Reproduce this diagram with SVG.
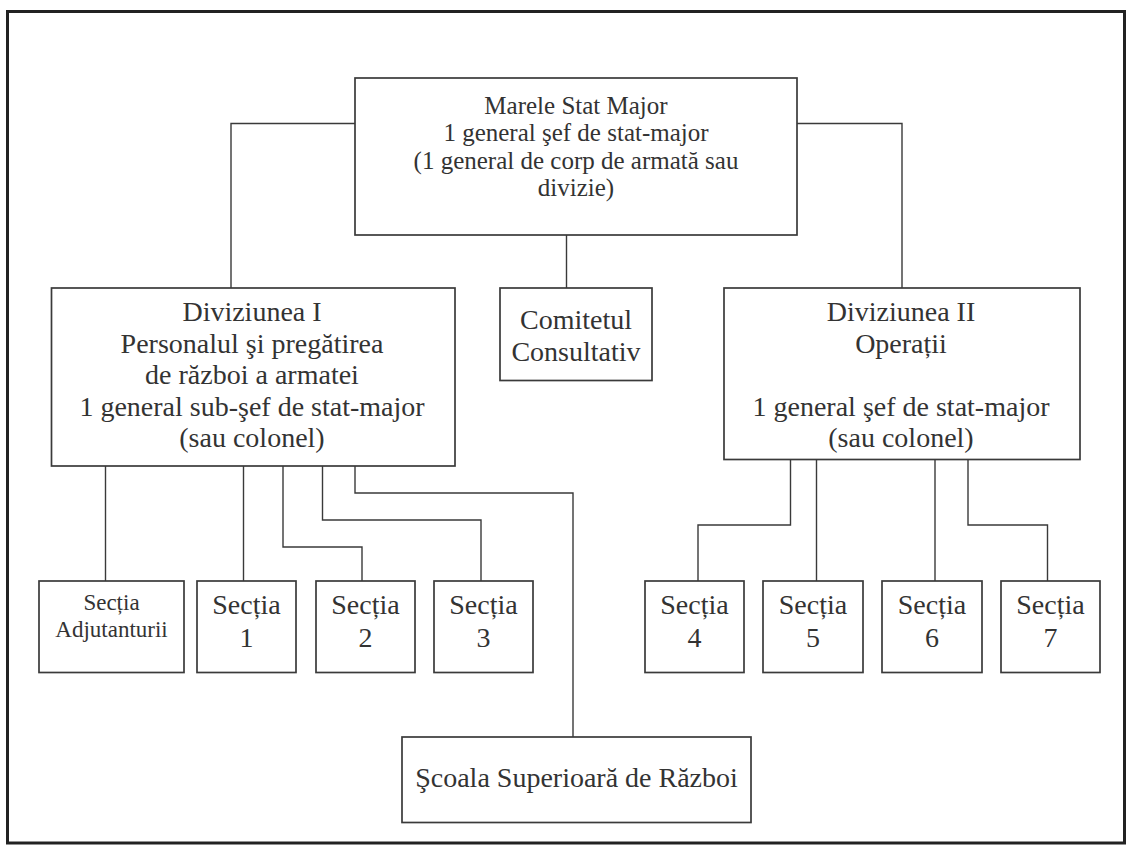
<svg xmlns="http://www.w3.org/2000/svg" width="1128" height="848" viewBox="0 0 1128 848">
<style>
.frame{fill:none;stroke:#222;stroke-width:3}
.box{fill:#fff;stroke:#3a3a3a;stroke-width:1.7}
.conn{fill:none;stroke:#3a3a3a;stroke-width:1.4}
.t{font-family:"Liberation Serif","Times New Roman",serif;font-size:28px;fill:#333;text-anchor:middle}
.m{font-size:25px}
.s{font-size:23px}
</style>
<rect width="1128" height="848" fill="#fff"/>
<rect class="frame" x="7.5" y="11.5" width="1117" height="831.5"/>
<g id="connectors">
<path class="conn" d="M355 123.5H231V288"/>
<path class="conn" d="M797 123.5H902V288"/>
<path class="conn" d="M566.5 235V288"/>
<path class="conn" d="M105.5 466V581"/>
<path class="conn" d="M243.5 466V581"/>
<path class="conn" d="M283 466V547H362V581"/>
<path class="conn" d="M322.5 466V520H481V581"/>
<path class="conn" d="M355 466V493H573V737"/>
<path class="conn" d="M790.5 459.5V525H698V581"/>
<path class="conn" d="M816.5 459.5V581"/>
<path class="conn" d="M935 459.5V581"/>
<path class="conn" d="M968 459.5V525H1047.5V581"/>
</g>
<g id="marele-stat-major">
<rect class="box" x="355" y="78" width="442" height="157"/>
<text class="t m" x="576" y="113.5">Marele Stat Major</text>
<text class="t m" x="576" y="141">1 general şef de stat-major</text>
<text class="t m" x="576" y="168.5">(1 general de corp de armată sau</text>
<text class="t m" x="576" y="196">divizie)</text>
</g>
<g id="diviziunea-1">
<rect class="box" x="51.5" y="288" width="403.5" height="178"/>
<text class="t" x="252" y="321">Diviziunea I</text>
<text class="t" x="252" y="352.5">Personalul şi pregătirea</text>
<text class="t" x="252" y="384">de război a armatei</text>
<text class="t" x="252" y="415.5">1 general sub-şef de stat-major</text>
<text class="t" x="252" y="447">(sau colonel)</text>
</g>
<g id="comitetul">
<rect class="box" x="500" y="288" width="152" height="92.5"/>
<text class="t" x="576" y="329">Comitetul</text>
<text class="t" x="576" y="360.5">Consultativ</text>
</g>
<g id="diviziunea-2">
<rect class="box" x="724" y="288" width="356" height="171.5"/>
<text class="t" x="901" y="321">Diviziunea II</text>
<text class="t" x="901" y="352.5">Operații</text>
<text class="t" x="901" y="415.5">1 general şef de stat-major</text>
<text class="t" x="901" y="447">(sau colonel)</text>
</g>
<g id="sectia-adjutanturii">
<rect class="box" x="39" y="581" width="145" height="91.5"/>
<text class="t s" x="111.5" y="609.5">Secția</text>
<text class="t s" x="111.5" y="637">Adjutanturii</text>
</g>
<g id="sectia-1">
<rect class="box" x="197" y="581" width="99" height="91.5"/>
<text class="t" x="246.5" y="613.5">Secția</text>
<text class="t" x="246.5" y="646.5">1</text>
</g>
<g id="sectia-2">
<rect class="box" x="316" y="581" width="99" height="91.5"/>
<text class="t" x="365.5" y="613.5">Secția</text>
<text class="t" x="365.5" y="646.5">2</text>
</g>
<g id="sectia-3">
<rect class="box" x="434" y="581" width="99" height="91.5"/>
<text class="t" x="483.5" y="613.5">Secția</text>
<text class="t" x="483.5" y="646.5">3</text>
</g>
<g id="sectia-4">
<rect class="box" x="645" y="581" width="99" height="91.5"/>
<text class="t" x="694.5" y="613.5">Secția</text>
<text class="t" x="694.5" y="646.5">4</text>
</g>
<g id="sectia-5">
<rect class="box" x="763" y="581" width="100" height="91.5"/>
<text class="t" x="813" y="613.5">Secția</text>
<text class="t" x="813" y="646.5">5</text>
</g>
<g id="sectia-6">
<rect class="box" x="882" y="581" width="100" height="91.5"/>
<text class="t" x="932" y="613.5">Secția</text>
<text class="t" x="932" y="646.5">6</text>
</g>
<g id="sectia-7">
<rect class="box" x="1001" y="581" width="99" height="91.5"/>
<text class="t" x="1050.5" y="613.5">Secția</text>
<text class="t" x="1050.5" y="646.5">7</text>
</g>
<g id="scoala-superioara">
<rect class="box" x="402" y="737" width="349" height="85.5"/>
<text class="t" x="576.5" y="787">Şcoala Superioară de Război</text>
</g>
</svg>
